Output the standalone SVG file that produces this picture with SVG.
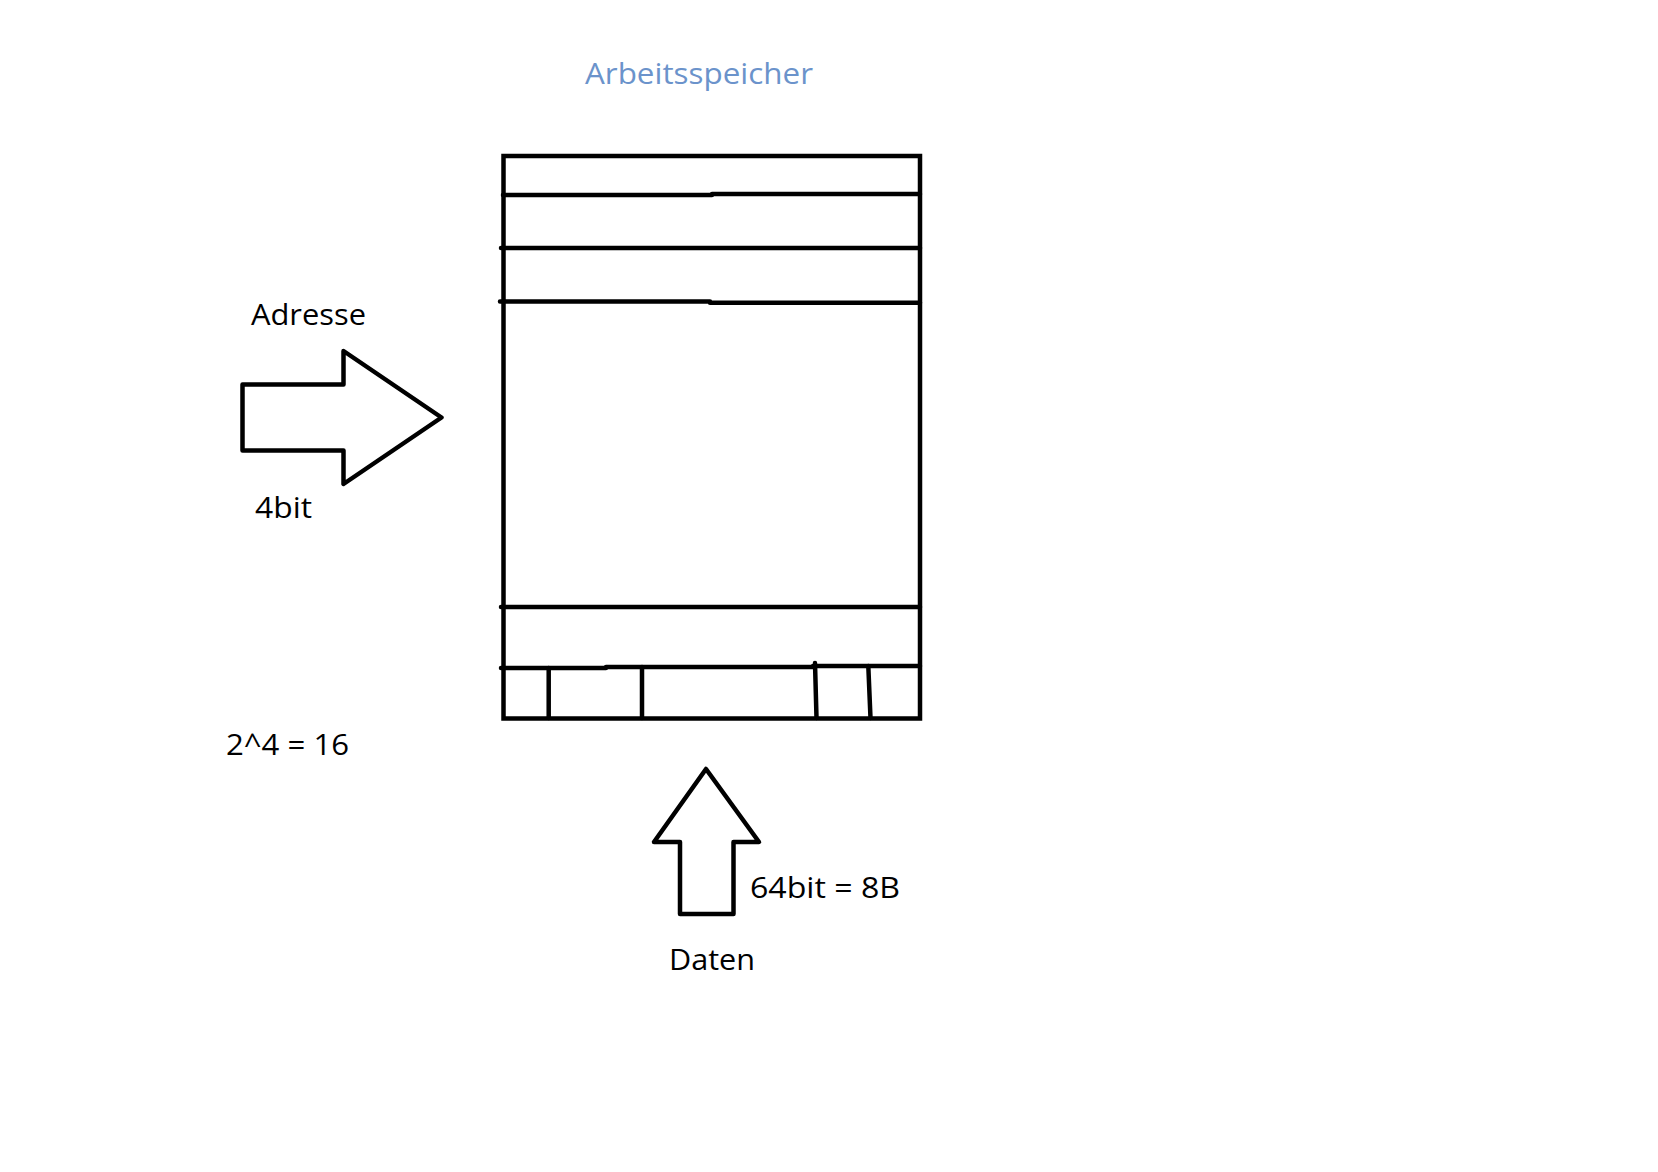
<svg xmlns="http://www.w3.org/2000/svg" width="1658" height="1172" viewBox="0 0 1658 1172">
<style>
.t{font-family:"Open Sans","Noto Sans","Liberation Sans",sans-serif;font-size:30px;fill:#000}
.title{fill:#6B93CB}
.s{fill:none;stroke:#000;stroke-width:4.5;stroke-linecap:round;stroke-linejoin:round}
.sb{fill:none;stroke:#000;stroke-width:4.5;stroke-linecap:butt;stroke-linejoin:miter}
</style>
<rect width="1658" height="1172" fill="#fff"/>
<g id="title"><text class="t title" x="585" y="84" textLength="228" lengthAdjust="spacingAndGlyphs">Arbeitsspeicher</text></g>
<g id="memory">
<rect class="sb" x="503.5" y="156" width="416.5" height="562.5"/>
<path class="s" d="M503 195 H712 M712 194 H920"/>
<path class="s" d="M501 248 H920"/>
<path class="s" d="M500 301.5 H710 M710 302.7 H920"/>
<path class="s" d="M501 607 H920"/>
<path class="s" d="M501 668 H606 M606 667 H813 M813 666 H920"/>
<path class="s" d="M548.7 668 V718 M642 667 V718 M815 663 L816.5 718 M868.3 666 L870.5 718"/>
</g>
<g id="address-arrow">
<polygon class="s" points="242.5,384.5 343.5,384.5 343.5,351 441.5,417.5 343.5,484 343.5,450.5 242.5,450.5"/>
<text class="t" x="251" y="325" textLength="115" lengthAdjust="spacingAndGlyphs">Adresse</text>
<text class="t" x="255" y="518" textLength="57" lengthAdjust="spacingAndGlyphs">4bit</text>
</g>
<g id="data-arrow">
<polygon class="s" points="706,769 759,842 733.5,842 733.5,914 680,914 680,842 654,842"/>
<text class="t" x="750" y="898" textLength="150" lengthAdjust="spacingAndGlyphs">64bit = 8B</text>
<text class="t" x="669" y="970" textLength="86" lengthAdjust="spacingAndGlyphs">Daten</text>
</g>
<g id="formula"><text class="t" x="226" y="755" textLength="123" lengthAdjust="spacingAndGlyphs">2^4 = 16</text></g>
</svg>
